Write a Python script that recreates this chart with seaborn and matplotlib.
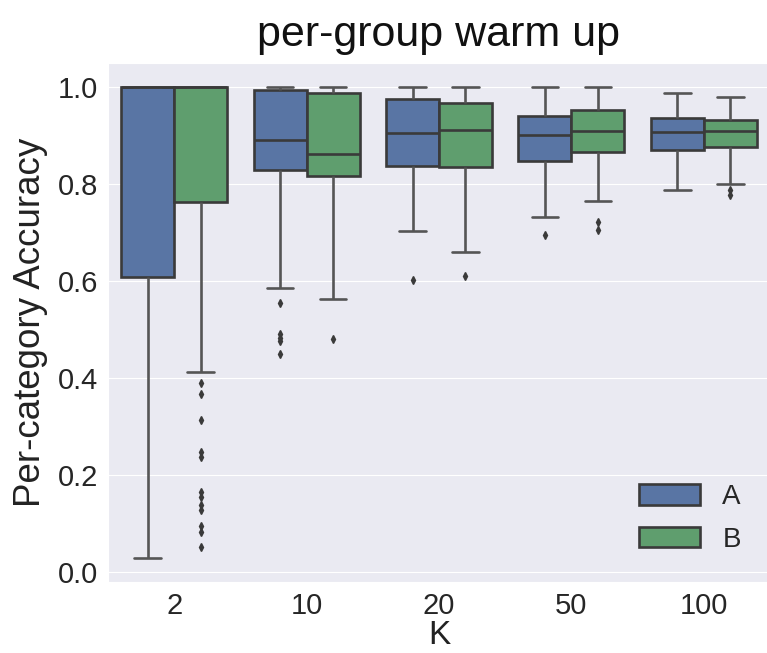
import pandas as pd
import seaborn as sns
import matplotlib
matplotlib.use("Agg")
import matplotlib.pyplot as plt

# box summaries (per K, for groups A and B)
k_labels = ["2", "10", "20", "50", "100"]
groups = ["A", "B"]

q1 = {"A": [0.608, 0.829, 0.837, 0.846, 0.870],
      "B": [0.763, 0.815, 0.834, 0.865, 0.876]}
median = {"A": [1.000, 0.890, 0.904, 0.900, 0.907],
          "B": [1.000, 0.862, 0.910, 0.908, 0.909]}
q3 = {"A": [1.000, 0.993, 0.975, 0.940, 0.935],
      "B": [1.000, 0.987, 0.966, 0.951, 0.931]}
whisker_lo = {"A": [0.028, 0.585, 0.703, 0.731, 0.786],
              "B": [0.412, 0.562, 0.660, 0.765, 0.799]}
whisker_hi = {"A": [1.000, 1.000, 1.000, 0.999, 0.987],
              "B": [1.000, 1.000, 1.000, 0.999, 0.979]}
outliers = {
    "A": [[], [0.555, 0.491, 0.482, 0.475, 0.449], [0.601], [0.695], []],
    "B": [[0.390, 0.366, 0.313, 0.247, 0.237, 0.165, 0.155, 0.138, 0.127,
           0.095, 0.082, 0.052],
          [0.480], [0.610], [0.721, 0.704], [0.786, 0.777]],
}


def sample_for(lo, a, m, b, hi, outs):
    # sorted sample of 4k+1 points whose quartiles land exactly on a, m, b
    k = len(outs) + 1
    vals = sorted(outs) + [lo]
    vals += [a] * k
    vals += [m] * k
    vals += [b] * k
    vals += [hi]
    return vals


rows = []
for g in groups:
    for i, k in enumerate(k_labels):
        for v in sample_for(whisker_lo[g][i], q1[g][i], median[g][i],
                            q3[g][i], whisker_hi[g][i], outliers[g][i]):
            rows.append({"K": k, "group": g, "acc": v})
df = pd.DataFrame(rows)

sns.set_style("darkgrid")
plt.rcParams["font.family"] = ["Liberation Sans", "DejaVu Sans"]

fig = plt.figure(figsize=(7.67, 6.53), dpi=100)
ax = fig.add_axes([0.1408, 0.1087, 0.8631, 0.7948])

edge = "#3a3a3a"
sns.boxplot(data=df, x="K", y="acc", hue="group", order=k_labels,
            hue_order=groups, palette=["#4C72B0", "#55A868"],
            linecolor=edge, linewidth=1.9,
            whiskerprops={"color": "#555555"},
            capprops={"color": "#555555"},
            flierprops={"marker": "d", "markersize": 4,
                        "markerfacecolor": edge, "markeredgecolor": edge},
            ax=ax)

ax.set_title("per-group warm up", fontsize=31, pad=12, color="#111111")
ax.set_xlabel("K", fontsize=24, labelpad=0, color="#222222")
ax.set_ylabel("Per-category Accuracy", fontsize=26.5, labelpad=7,
              color="#222222")
ax.set_yticks([0.0, 0.2, 0.4, 0.6, 0.8, 1.0])
ax.tick_params(axis="both", labelsize=21, pad=7, length=0,
               labelcolor="#262626")
ax.xaxis.grid(False)

sns.move_legend(ax, "lower right", frameon=False, fontsize=20,
                handlelength=2.2, handleheight=0.75, labelspacing=0.6,
                borderaxespad=0.65)
ax.get_legend().set_title("")

plt.savefig("out.png", dpi=100)
plt.close()
